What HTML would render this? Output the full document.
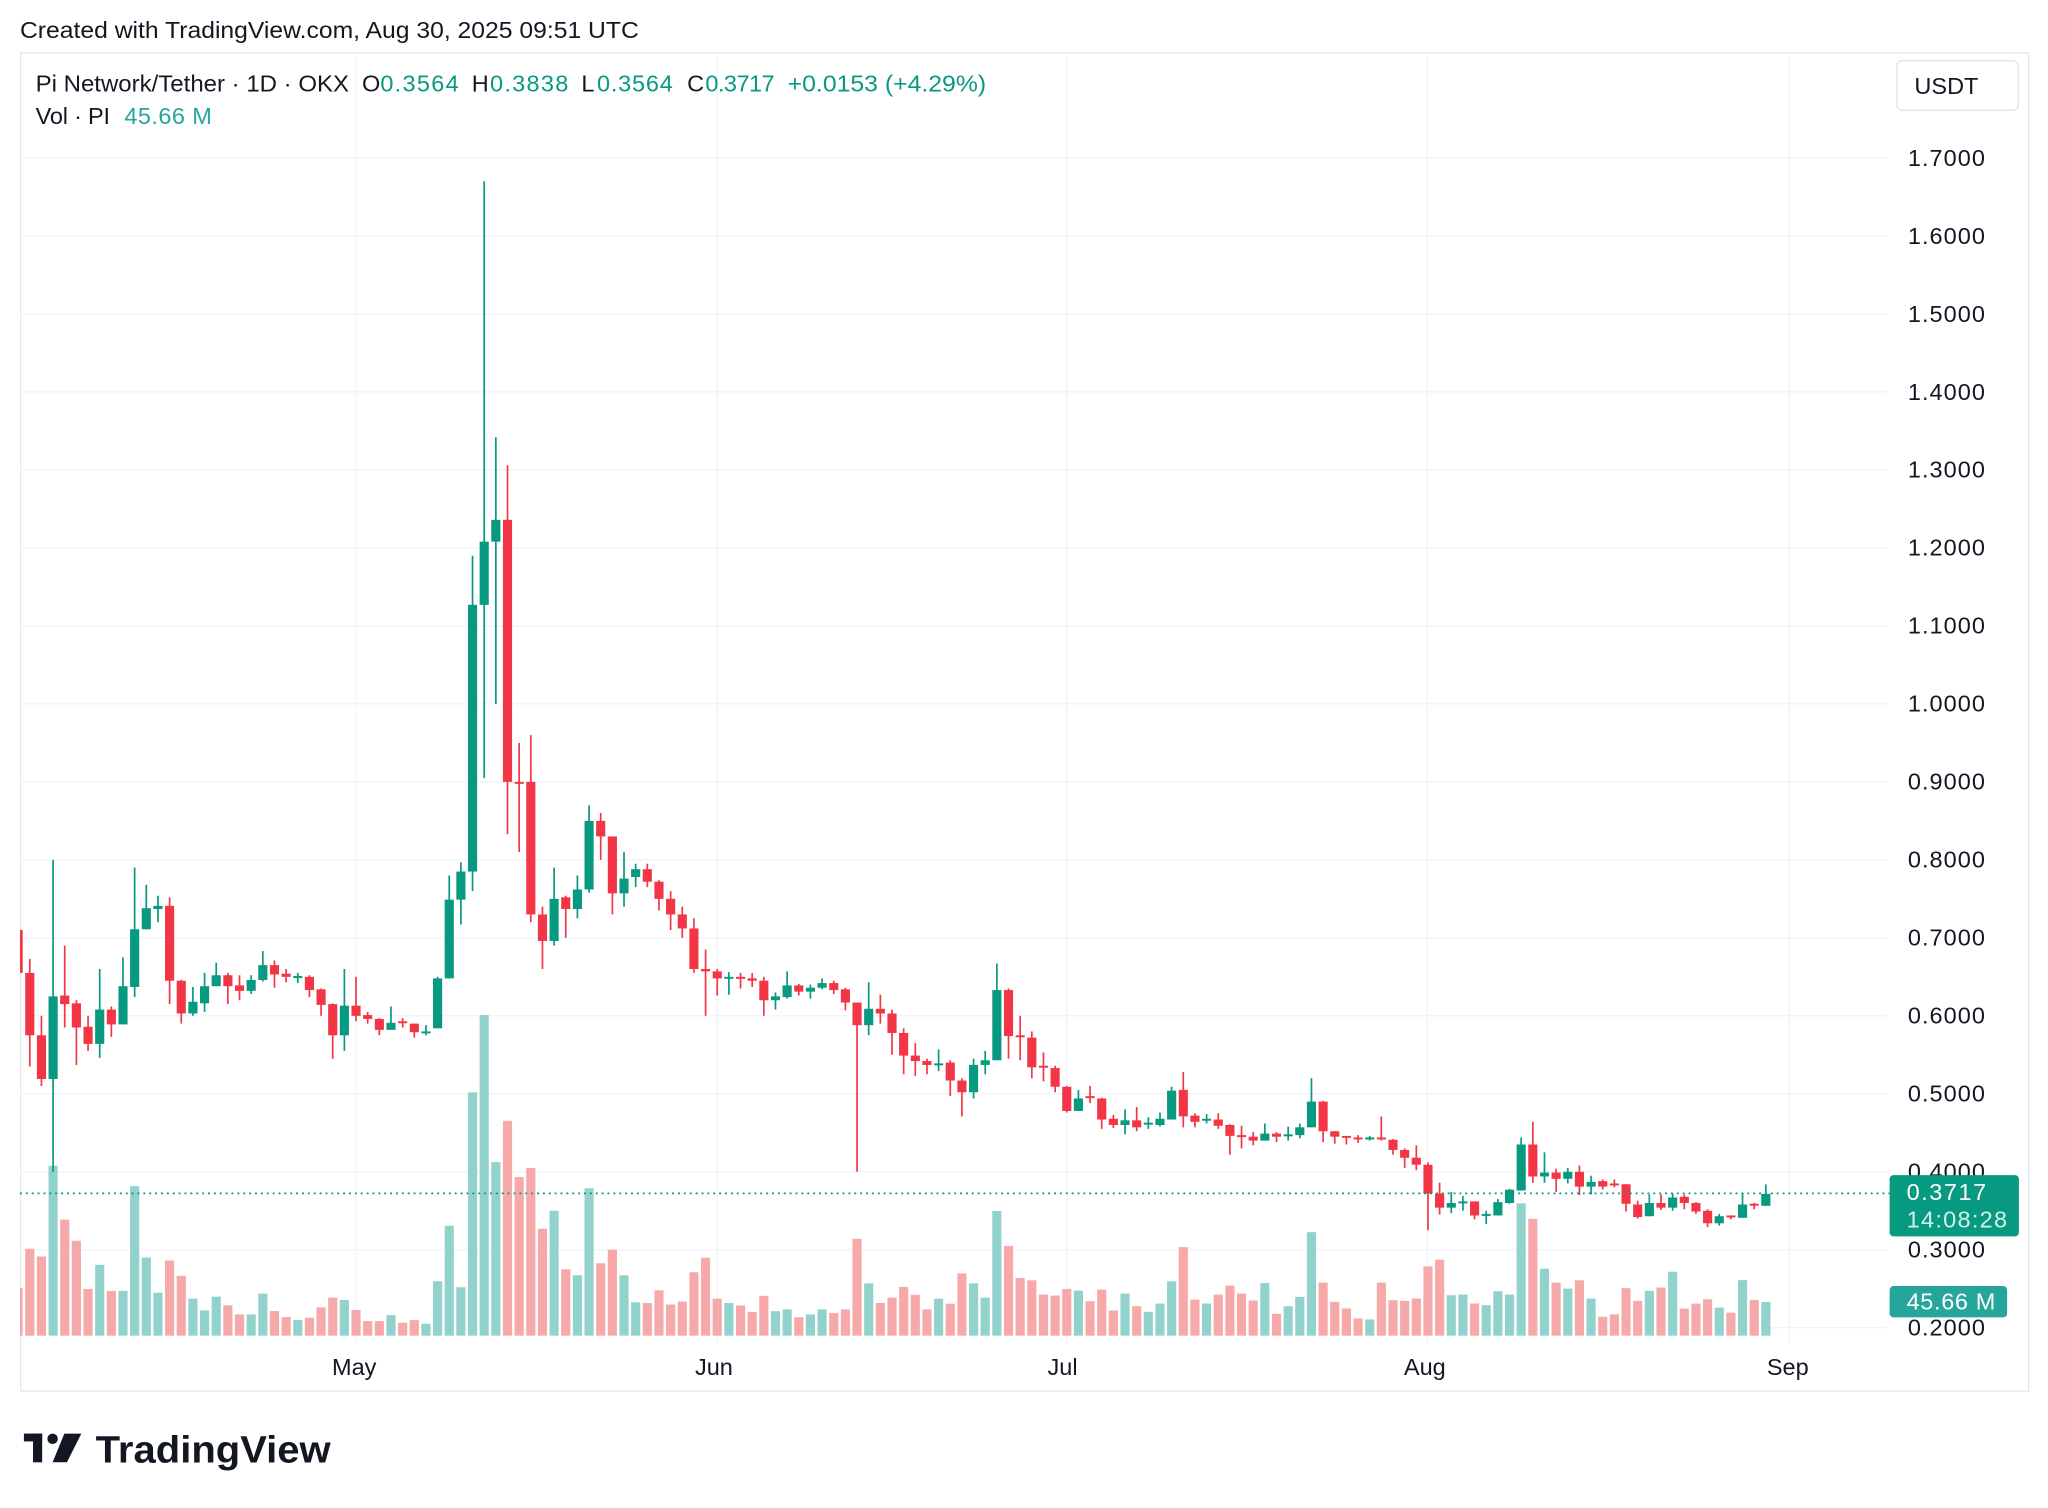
<!DOCTYPE html>
<html><head><meta charset="utf-8">
<style>
html,body{margin:0;padding:0;background:#fff;}
svg{display:block;font-family:"Liberation Sans",sans-serif;}
</style></head>
<body>
<svg id="s" width="2048" height="1508" viewBox="0 0 1568 1155" xmlns="http://www.w3.org/2000/svg">
<rect x="0" y="0" width="1568" height="1155" fill="#fff"/>
<text x="15" y="29" font-size="18" fill="#131722" textLength="474" lengthAdjust="spacingAndGlyphs">Created with TradingView.com, Aug 30, 2025 09:51 UTC</text>
<rect x="15.5" y="40.5" width="1538" height="1025" fill="none" stroke="#e6e8ee" stroke-width="1"/>
<g id="grid"></g>
<g id="vol"></g>
<g id="cdl"></g>
<line x1="15" y1="914" x2="1447" y2="914" stroke="#089981" stroke-width="1.3" stroke-dasharray="1.5 3"/>
<g id="axis" font-size="18" fill="#131722"></g>
<g font-size="18" fill="#131722">
<text x="254" y="1053">May</text>
<text x="532" y="1053">Jun</text>
<text x="802" y="1053">Jul</text>
<text x="1075" y="1053">Aug</text>
<text x="1353" y="1053">Sep</text>
</g>
<g font-size="18" fill="#131722">
<text x="27" y="70" textLength="240" lengthAdjust="spacingAndGlyphs">Pi Network/Tether · 1D · OKX</text>
<text x="277" y="70">O</text><text x="291" y="70" fill="#089981" textLength="60">0.3564</text>
<text x="361" y="70">H</text><text x="375" y="70" fill="#089981" textLength="60">0.3838</text>
<text x="445" y="70">L</text><text x="457" y="70" fill="#089981" textLength="58">0.3564</text>
<text x="526" y="70">C</text><text x="540" y="70" fill="#089981" textLength="53">0.3717</text>
<text x="603" y="70" fill="#089981" textLength="152" lengthAdjust="spacingAndGlyphs">+0.0153 (+4.29%)</text>
<text x="27" y="95" textLength="57">Vol · PI</text>
<text x="95" y="95" fill="#26a69a" textLength="67">45.66 M</text>
</g>
<rect x="1452.5" y="46.5" width="93" height="38" rx="4" fill="#fff" stroke="#e0e3eb"/>
<text x="1466" y="72" font-size="18" fill="#131722">USDT</text>
<rect x="1447" y="900" width="99" height="47" rx="3" fill="#089981"/>
<text x="1460" y="919" font-size="18" fill="#fff" textLength="61">0.3717</text>
<text x="1460" y="940" font-size="18" fill="#d6f0ea" textLength="77">14:08:28</text>
<rect x="1447" y="985" width="90" height="24" rx="3" fill="#26a69a"/>
<text x="1460" y="1003" font-size="18" fill="#fff" textLength="68">45.66 M</text>
<g fill="#131722">
<rect x="18" y="1098" width="14" height="6"/>
<rect x="25" y="1098" width="7" height="22"/>
<circle cx="40" cy="1102" r="4"/>
<polygon points="49,1098 62,1098 51,1120 40,1120"/>
</g>
<text x="73" y="1120" font-size="29" font-weight="bold" fill="#131722" textLength="180" lengthAdjust="spacingAndGlyphs">TradingView</text>
</svg>
<script>
(function(){
var NS="http://www.w3.org/2000/svg";
function el(g,t,a){var e=document.createElementNS(NS,t);for(var k in a)e.setAttribute(k,a[k]);document.getElementById(g).appendChild(e);return e;}
function Y(p){return 121+(1.7-p)*597.3;}
for(var i=2;i<=17;i++){var y=Y(i/10);el("grid","line",{x1:15,x2:1445,y1:y,y2:y,stroke:"#f0f3fa","stroke-width":1});
var t=el("axis","text",{x:1461,y:y+6,textLength:59});t.textContent=(i/10).toFixed(4);}
[272,549,817,1093,1370].forEach(function(x){el("grid","line",{x1:x,x2:x,y1:41,y2:1030,stroke:"#f0f3fa","stroke-width":1});});
var D=[
[.71,.655,.72,.65],[.655,.575,.673,.535],[.575,.519,.6,.51],[.519,.625,.8,.4],[.626,.615,.69,.585],[.616,.585,.62,.537],[.586,.564,.6,.555],[.564,.608,.66,.546],[.608,.589,.612,.573],[.589,.638,.675,.589],
[.637,.711,.79,.624],[.711,.738,.768,.711],[.737,.741,.754,.72],[.741,.645,.752,.615],[.645,.603,.646,.59],[.603,.618,.637,.6],[.616,.638,.655,.605],[.638,.652,.668,.638],[.652,.638,.655,.615],[.639,.632,.652,.62],
[.632,.646,.652,.628],[.646,.665,.683,.644],[.665,.653,.671,.636],[.654,.65,.66,.643],[.65,.651,.655,.642],[.65,.633,.652,.624],[.634,.614,.635,.6],[.615,.575,.616,.545],[.575,.613,.66,.555],[.613,.6,.65,.593],
[.601,.596,.605,.59],[.596,.582,.597,.575],[.582,.591,.612,.582],[.593,.591,.597,.585],[.59,.579,.59,.572],[.578,.58,.588,.575],[.584,.648,.65,.584],[.648,.749,.78,.648],[.749,.785,.797,.717],[.785,1.127,1.19,.76],
[1.127,1.208,1.67,.905],[1.208,1.236,1.342,1.0],[1.236,.9,1.306,.833],[.9,.898,.95,.81],[.9,.73,.96,.72],[.73,.696,.74,.66],[.696,.75,.79,.69],[.752,.737,.754,.70],[.737,.762,.78,.725],[.762,.85,.87,.758],
[.85,.83,.86,.80],[.83,.757,.83,.73],[.757,.776,.81,.74],[.778,.788,.795,.765],[.788,.772,.795,.765],[.772,.75,.774,.735],[.75,.73,.76,.71],[.73,.712,.74,.7],[.712,.66,.725,.655],[.66,.657,.685,.6],
[.657,.648,.66,.626],[.648,.65,.656,.627],[.65,.649,.655,.635],[.648,.645,.655,.637],[.645,.62,.65,.6],[.62,.625,.63,.608],[.624,.639,.657,.622],[.639,.631,.641,.626],[.631,.636,.64,.622],[.636,.642,.648,.634],
[.642,.633,.645,.628],[.634,.617,.636,.607],[.617,.588,.617,.4],[.588,.609,.643,.575],[.609,.603,.627,.59],[.603,.578,.608,.55],[.578,.549,.584,.525],[.549,.542,.565,.523],[.542,.537,.545,.525],[.537,.539,.557,.529],
[.54,.517,.543,.497],[.517,.502,.52,.471],[.502,.537,.545,.494],[.537,.543,.555,.525],[.543,.633,.667,.543],[.633,.574,.635,.545],[.575,.573,.6,.543],[.572,.534,.58,.52],[.536,.535,.553,.516],[.533,.509,.536,.502],
[.509,.478,.51,.476],[.478,.494,.505,.478],[.497,.495,.51,.488],[.494,.467,.495,.455],[.468,.46,.473,.456],[.46,.466,.48,.448],[.466,.457,.483,.452],[.462,.463,.47,.455],[.46,.468,.476,.458],[.467,.504,.509,.467],
[.505,.471,.528,.457],[.472,.464,.475,.457],[.467,.468,.474,.462],[.467,.459,.475,.455],[.46,.446,.461,.422],[.447,.446,.459,.43],[.445,.44,.451,.434],[.44,.449,.462,.44],[.449,.445,.451,.438],[.447,.448,.458,.44],
[.447,.457,.462,.443],[.457,.49,.52,.457],[.49,.452,.491,.438],[.452,.445,.452,.436],[.446,.445,.446,.435],[.444,.442,.447,.437],[.443,.444,.446,.44],[.444,.442,.471,.44],[.441,.428,.442,.422],[.428,.418,.43,.405],
[.418,.409,.434,.402],[.409,.372,.412,.325],[.372,.354,.386,.345],[.354,.36,.374,.347],[.361,.362,.369,.35],[.362,.344,.362,.339],[.345,.346,.35,.333],[.344,.361,.365,.344],[.36,.377,.378,.359],[.376,.435,.444,.376],
[.435,.394,.464,.386],[.394,.399,.425,.386],[.399,.391,.404,.374],[.391,.4,.405,.385],[.4,.381,.408,.37],[.381,.387,.395,.371],[.388,.381,.39,.377],[.385,.383,.39,.38],[.384,.359,.384,.349],[.358,.342,.363,.34],
[.343,.36,.371,.343],[.36,.354,.371,.351],[.354,.367,.372,.35],[.368,.36,.371,.352],[.36,.349,.361,.346],[.35,.334,.352,.329],[.334,.343,.346,.331],[.344,.343,.344,.339],[.341,.358,.373,.341],[.359,.358,.36,.352],
[.3564,.3717,.3838,.3564]];
function f1(z){return .8-(z-30)/2330;}function f2(z){return 1.7-(z+6)/1040;}function f3(z){return .8-(z-222)/2187.5;}
function f4(z){return .6-(z-195)/2350;}function f5(z){return .5-(z-128)/2350;}function f6(z){return .4-(z-215)/2325;}
var V=[];
[1310,1192,1215,944,1105,1168,1312,1240,1318,1318,1005,1218,1323,1227,1273,1341,1376,1335,1361,1388,1388,1326,1378,1396,1405,1398,1367,1338,1345,1375,1408,1408,1390,1413,1405,1416].forEach(function(z){V.push(Y(f1(z)));});
[1492,1418,1500,1240,1137,1333,1278,1353,1341,1422,1398,1476,1484,1368,1468,1450,1484,1520,1521,1504,1523,1519,1480].forEach(function(z){V.push(Y(f2(z)));});
[1338,1453,1465,1472,1490,1445,1488,1483,1505,1497,1483,1493,1483,1285,1410,1465,1450,1420,1442,1483,1453,1467,1382,1410,1450,1207,1305].forEach(function(z){V.push(Y(f3(z)));});
[985,992,1035,1038,1018,1023,1055,1020,1083,1032,1070,1087,1062,995,892,1050,1062,1035,1008,1032,1053,1000,1093,1070,1042].forEach(function(z){V.push(Y(f4(z)));});
[545,697,755,775,805,808,697,750,752,745,648,628,735,733,760,765,723,733,458,505,655,697,715,690,745].forEach(function(z){V.push(Y(f5(z)));});
[647,640,562,600,570,560,513,623,608,595,620,635,538,597,603].forEach(function(z){V.push(Y(f6(z)));});
var base=1023,w=7;
for(var i=0;i<D.length;i++){
 var d=D[i],x=13.6+8.924*i,up=d[1]>=d[0];
 var col=up?"#089981":"#F23645";
 var vt=V[i];
 var x0=Math.max(15,x-w/2);
 if(vt!==undefined){el("vol","rect",{x:x0,y:vt,width:x+w/2-x0,height:base-vt,fill:up?"#92d2cc":"#f7a9a9"});}
 var yh=Y(d[2]),yl=Y(d[3]),yo=Y(d[0]),yc=Y(d[1]);
 if(x>=15) el("cdl","line",{x1:x,x2:x,y1:yh,y2:yl,stroke:col,"stroke-width":1.3});
 var bt=Math.min(yo,yc),bh=Math.max(1.5,Math.abs(yo-yc));
 el("cdl","rect",{x:x0,y:bt,width:x+w/2-x0,height:bh,fill:col});
}
})();
</script>
</body></html>
